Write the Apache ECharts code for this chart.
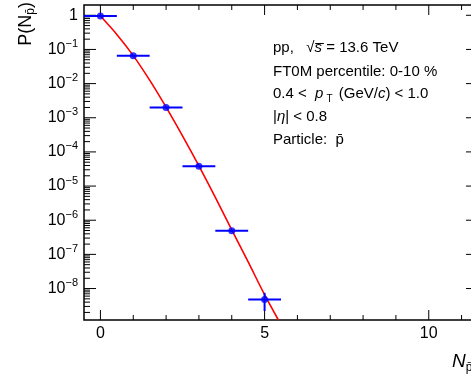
<!DOCTYPE html>
<html>
<head>
<meta charset="utf-8">
<script src="https://cdn.jsdelivr.net/npm/echarts@6/dist/echarts.min.js"></script>
<style>html,body{margin:0;padding:0;background:#fff}#c{width:471px;height:381px}</style>
</head>
<body>
<div id="c"></div>
<script>
// ---- data ----
const pointsX = [0, 1, 2, 3, 4, 5];
const pointsY = [0.95, 0.065, 2.0e-3, 3.8e-5, 4.9e-7, 4.8e-9];
const yLow = [0.94, 0.064, 1.97e-3, 3.7e-5, 4.6e-7, 2.2e-9];
const yHigh = [0.96, 0.066, 2.03e-3, 3.9e-5, 5.2e-7, 7.5e-9];
const binHalfWidth = [0.5, 0.5, 0.5, 0.5, 0.5, 0.5];
const curveX = [0, 0.5, 1, 1.5, 2, 2.5, 3, 3.5, 4, 4.5, 5, 5.42];
const curveY = [0.95, 0.275, 0.066, 0.0126, 2.04e-3, 2.95e-4, 3.9e-5, 4.7e-6, 5.2e-7, 6.0e-8, 6.6e-9, 1.2e-9];
const xMajorTicks = [0, 5, 10];
const xMinorTicks = [1, 2, 3, 4, 6, 7, 8, 9, 11];
const yMajorTicks = [1e-8, 1e-7, 1e-6, 1e-5, 1e-4, 1e-3, 1e-2, 1e-1, 1];
const yMinorMultipliers = [2, 3, 4, 5, 6, 7, 8, 9];
const X_MIN = -0.5, X_MAX = 11.5, Y_MIN = 1.2e-9, Y_MAX = 2;

const F = "'Liberation Sans', Arial, Helvetica, sans-serif";
const BLUE = '#0000ff', RED = '#ff0000';

// tick items: [x, y, kind]  kind 0=x major,1=x minor,2=y major,3=y minor
const tickItems = [];
xMajorTicks.forEach(v => tickItems.push([v, 1e-3, 0]));
xMinorTicks.forEach(v => tickItems.push([v, 1e-3, 1]));
yMajorTicks.forEach(v => tickItems.push([0, v, 2]));
[1e-9].concat(yMajorTicks).forEach(d => yMinorMultipliers.forEach(m => {
  const v = d * m;
  if (v > Y_MIN && v < Y_MAX) tickItems.push([0, v, 3]);
}));

const errItems = pointsX.map((x, i) => [x, pointsY[i], x - binHalfWidth[i], x + binHalfWidth[i], yLow[i], yHigh[i]]);

const chart = echarts.init(document.getElementById('c'), null, {renderer: 'canvas'});
chart.setOption({
  animation: false,
  grid: {left: 84, top: 5, width: 394, height: 315, outerBoundsMode: 'none', containLabel: false,
         show: true, borderColor: '#000', borderWidth: 1.5, backgroundColor: 'transparent'},
  xAxis: {
    type: 'value', min: X_MIN, max: X_MAX, interval: 0.5,
    axisLine: {show: false}, axisTick: {show: false}, splitLine: {show: false},
    axisLabel: {
      fontFamily: F, fontSize: 16, color: '#000', margin: 6,
      formatter: v => (xMajorTicks.indexOf(v) >= 0 ? String(v) : '')
    }
  },
  yAxis: {
    type: 'log', logBase: 10, min: Y_MIN, max: Y_MAX,
    axisLine: {show: false}, axisTick: {show: false}, splitLine: {show: false},
    axisLabel: {
      margin: 6, showMinLabel: false, showMaxLabel: false,
      formatter: v => {
        const e = Math.round(Math.log10(v));
        if (Math.abs(Math.log10(v) - e) > 1e-6) return '';
        if (e === 0) return '{n|1}';
        return '{n|10}{s|' + String(e).replace('-', '−') + '}';
      },
      rich: {
        n: {fontFamily: F, fontSize: 16, color: '#000', lineHeight: 22},
        s: {fontFamily: F, fontSize: 11, color: '#000', lineHeight: 11, verticalAlign: 'top'}
      }
    }
  },
  series: [
    {
      type: 'custom', name: 'ticks', silent: true, clip: false, z: 1,
      data: tickItems, encode: {x: 0, y: 1},
      renderItem: (params, api) => {
        const cs = params.coordSys;
        const kind = api.value(2);
        const st = {stroke: '#000', lineWidth: 1};
        if (kind < 2) {
          const px = api.coord([api.value(0), 1e-3])[0];
          const len = kind === 0 ? 10 : 5;
          const b = cs.y + cs.height, t = cs.y;
          return {type: 'group', children: [
            {type: 'line', shape: {x1: px, y1: b, x2: px, y2: b - len}, style: st},
            {type: 'line', shape: {x1: px, y1: t, x2: px, y2: t + len}, style: st}
          ]};
        } else {
          const py = api.coord([0, api.value(1)])[1];
          const len = kind === 2 ? 12 : 6;
          const l = cs.x, r = cs.x + cs.width;
          return {type: 'group', children: [
            {type: 'line', shape: {x1: l, y1: py, x2: l + len, y2: py}, style: st},
            {type: 'line', shape: {x1: r, y1: py, x2: r - len, y2: py}, style: st}
          ]};
        }
      }
    },
    {
      type: 'line', name: 'fit', data: curveX.map((x, i) => [x, curveY[i]]),
      smooth: 0.3, showSymbol: false, symbol: 'none', clip: true, z: 2,
      lineStyle: {color: RED, width: 1.6}
    },
    {
      type: 'custom', name: 'errors', silent: true, z: 3,
      data: errItems, encode: {x: 0, y: 1},
      renderItem: (params, api) => {
        const p1 = api.coord([api.value(2), api.value(1)]);
        const p2 = api.coord([api.value(3), api.value(1)]);
        const q1 = api.coord([api.value(0), api.value(4)]);
        const q2 = api.coord([api.value(0), api.value(5)]);
        const st = {stroke: BLUE, lineWidth: 2};
        return {type: 'group', children: [
          {type: 'line', shape: {x1: p1[0], y1: p1[1], x2: p2[0], y2: p2[1]}, style: st},
          {type: 'line', shape: {x1: q1[0], y1: q1[1], x2: q2[0], y2: q2[1]}, style: st}
        ]};
      }
    },
    {
      type: 'scatter', name: 'data', data: pointsX.map((x, i) => [x, pointsY[i]]),
      symbol: 'circle', symbolSize: 7, z: 4,
      itemStyle: {color: BLUE}
    }
  ],
  graphic: [
    {type: 'text', x: 26, y: 2, rotation: Math.PI / 2, z: 10,
      style: {text: '{r|P(N}{s|p̄}{r|)}', align: 'right', verticalAlign: 'middle',
        rich: {r: {fontFamily: F, fontSize: 18, fill: '#000', lineHeight: 22},
               s: {fontFamily: F, fontSize: 12, fill: '#000', lineHeight: 12, verticalAlign: 'bottom'}}}},
    {type: 'text', x: 452, y: 362, z: 10,
      style: {text: '{i|N}{s|p̄}', align: 'left', verticalAlign: 'middle',
        rich: {i: {fontFamily: F, fontSize: 19, fontStyle: 'italic', fill: '#000', lineHeight: 24},
               s: {fontFamily: F, fontSize: 12, fill: '#000', lineHeight: 12, verticalAlign: 'bottom'}}}},
    {type: 'text', x: 273, y: 48, z: 10,
      style: {text: '{r|pp,   √}{i|s̅}{r| = 13.6 TeV}', verticalAlign: 'middle',
        rich: {r: {fontFamily: F, fontSize: 15, fill: '#000'}, i: {fontFamily: F, fontSize: 15, fontStyle: 'italic', fill: '#000'}}}},
    {type: 'text', x: 273, y: 72, z: 10,
      style: {text: 'FT0M percentile: 0-10 %', verticalAlign: 'middle', font: '15px ' + F, fill: '#000'}},
    {type: 'text', x: 273, y: 94, z: 10,
      style: {text: '{r|0.4 <  }{i|p}{s|T}{r| (GeV/}{i|c}{r|) < 1.0}', verticalAlign: 'middle',
        rich: {r: {fontFamily: F, fontSize: 15, fill: '#000', lineHeight: 20},
               i: {fontFamily: F, fontSize: 15, fontStyle: 'italic', fill: '#000', lineHeight: 20},
               s: {fontFamily: F, fontSize: 10, fill: '#000', lineHeight: 9, verticalAlign: 'bottom', padding: [0, 2, 0, 3]}}}},
    {type: 'text', x: 273, y: 117, z: 10,
      style: {text: '{r||}{i|η}{r|| < 0.8}', verticalAlign: 'middle',
        rich: {r: {fontFamily: F, fontSize: 15, fill: '#000'}, i: {fontFamily: F, fontSize: 15, fontStyle: 'italic', fill: '#000'}}}},
    {type: 'text', x: 273, y: 140, z: 10,
      style: {text: 'Particle:  p̄', verticalAlign: 'middle', font: '15px ' + F, fill: '#000'}}
  ]
});
</script>
</body>
</html>
